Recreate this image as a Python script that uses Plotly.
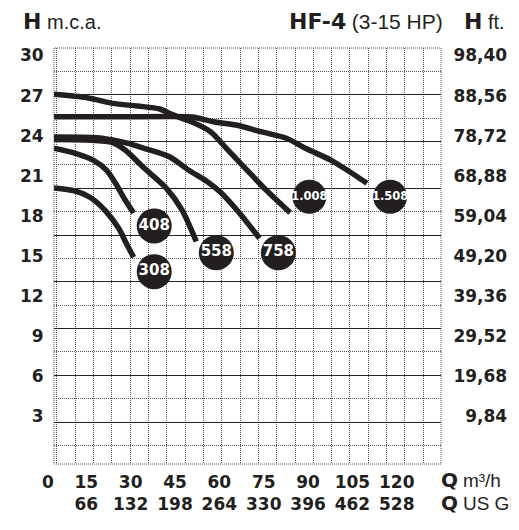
import plotly.graph_objects as go

# ---------------- data ----------------
q_ticks = [0, 15, 30, 45, 60, 75, 90, 105, 120]          # m3/h
q_labels = ["0", "15", "30", "45", "60", "75", "90", "105", "120"]
gpm_labels = ["", "66", "132", "198", "264", "330", "396", "462", "528"]

h_ticks = [3, 6, 9, 12, 15, 18, 21, 24, 27, 30]          # m.c.a.
h_labels = ["3", "6", "9", "12", "15", "18", "21", "24", "27", "30"]
ft_labels = ["9,84", "19,68", "29,52", "39,36", "49,20",
             "59,04", "68,88", "78,72", "88,56", "98,40"]

models = ["308", "408", "558", "758", "1.008", "1.508"]

q_308 = [0, 6.96, 12.29, 17.65, 21.92, 24.39, 26.95]
h_308 = [20.09, 19.87, 19.38, 18.33, 17.06, 15.98, 14.91]

q_408 = [0, 6.96, 13.38, 17.65, 20.86, 24.06, 26.95]
h_408 = [23.06, 22.69, 22.15, 21.44, 20.43, 19.19, 18.22]

q_558 = [0, 11.23, 19.80, 24.06, 30.48, 37.96, 43.32, 48.13]
h_558 = [23.72, 23.68, 23.49, 22.93, 21.58, 20.08, 18.44, 16.09]

q_758 = [0, 14.44, 19.80, 25.12, 30.48, 39.05, 45.47, 51.88, 56.15, 62.57, 69.53]
h_758 = [23.90, 23.85, 23.68, 23.43, 23.06, 22.43, 21.44, 20.56, 19.81, 18.26, 16.33]

q_1008 = [0, 11.23, 19.80, 28.24, 35.84, 39.05, 43.32, 46.53, 52.94, 58.30, 64.72, 71.14, 76.46, 79.90]
h_1008 = [27.10, 26.84, 26.42, 26.22, 26.00, 25.68, 25.30, 25.05, 24.30, 23.06, 21.56, 20.07, 18.95, 18.24]

q_1508 = [0, 22.0, 45.47, 47.49, 53.90, 61.51, 69.95, 78.61, 85.03, 93.60, 100.01, 105.88]
h_1508 = [25.42, 25.42, 25.42, 25.38, 25.05, 24.80, 24.30, 23.81, 23.06, 22.18, 21.31, 20.44]

label_q = [33.9, 33.9, 54.9, 75.9, 86.4, 113.7]
label_h = [13.83, 17.25, 15.25, 15.25, 19.44, 19.44]

# ---------------- styling ----------------
INK = "#231f20"
BOLD = "DejaVu Sans"
REG = "Liberation Sans"
OFF = 8                      # page body margin of the browser
W, H = 519 - OFF, 530 - OFF
L, T = 45 - OFF, 48 - OFF
PW, PH = 408, 416
R, B = W - L - PW, H - T - PH
NOTICK = "rgba(0,0,0,0)"


def px_x(px):
    return (px - OFF - L) / PW


def px_y(py):
    return (T + PH - (py - OFF)) / PH


fig = go.Figure()

curves = [(q_308, h_308), (q_408, h_408), (q_558, h_558),
          (q_758, h_758), (q_1008, h_1008), (q_1508, h_1508)]
for (qq, hh), name in zip(curves, models):
    fig.add_trace(go.Scatter(
        x=qq, y=hh, mode="lines", name=name,
        line=dict(color=INK, width=5.5, shape="spline", smoothing=0.8),
        hoverinfo="skip", showlegend=False))

fig.add_trace(go.Scatter(
    x=label_q, y=label_h, mode="markers+text", text=models,
    textposition="middle center",
    marker=dict(size=[35, 35, 35, 35, 34, 34], color=INK, opacity=1,
                line=dict(width=0)),
    textfont=dict(family=BOLD, weight="bold", color="white",
                  size=[15 if len(m) == 3 else 11.5 for m in models]),
    showlegend=False, hoverinfo="skip", cliponaxis=False))

# empty traces so the helper axes exist
fig.add_trace(go.Scatter(x=[], y=[], xaxis="x2", yaxis="y2", showlegend=False))
fig.add_trace(go.Scatter(x=[], y=[], xaxis="x", yaxis="y3", showlegend=False))

tickfont = dict(family=BOLD, weight="bold", size=17, color=INK)
xt = ["\u20070" if g == "" else f"{a}<br>{g}" for a, g in zip(q_labels, gpm_labels)]
width_ft = max(len(s) for s in ft_labels)
ft_text = [s.rjust(width_ft, "\u2007") for s in ft_labels]

fig.update_layout(
    width=W, height=H, autosize=False,
    margin=dict(l=L, r=R, t=T, b=B, pad=0),
    paper_bgcolor="white", plot_bgcolor="white",
    xaxis=dict(range=[0, 130.91], tickmode="array", tickvals=q_ticks, ticktext=xt,
               showgrid=False, zeroline=False, showline=False, ticks="",
               tickfont=tickfont, ticklabelshift=-12, ticklabelstandoff=6),
    yaxis=dict(range=[-0.55, 30.56], tickmode="array", tickvals=h_ticks, ticktext=h_labels,
               showgrid=False, zeroline=False, showline=False,
               ticks="outside", ticklen=6, tickcolor=NOTICK,
               tickfont=tickfont),
    yaxis3=dict(range=[-0.55, 30.56], overlaying="y", side="right", anchor="x",
                tickmode="array", tickvals=h_ticks, ticktext=ft_text,
                showgrid=False, zeroline=False, showline=False,
                ticks="outside", ticklen=8, tickcolor=NOTICK,
                tickfont=tickfont),
    xaxis2=dict(range=[-1.158, 19.97], overlaying="x", anchor="y2",
                tickmode="linear", tick0=0, dtick=1, showticklabels=False, ticks="",
                showgrid=True, gridcolor="#555555", gridwidth=1, griddash="1px,1px",
                zeroline=False, showline=False),
    yaxis2=dict(range=[17.79, 0], overlaying="y", anchor="x2",
                tickmode="array", tickvals=list(range(2, 17, 2)),
                showticklabels=False, ticks="",
                showgrid=True, gridcolor="#222222", gridwidth=1,
                minor=dict(tickmode="linear", tick0=0, dtick=1, showgrid=True,
                           gridcolor="#555555", gridwidth=1, griddash="1px,1px", ticks=""),
                zeroline=False, showline=False),
    shapes=[dict(type="rect", xref="paper", yref="paper", x0=0, x1=1, y0=0, y1=1,
                 line=dict(color="#555555", width=1, dash="1px,1px"), layer="below")],
)

def bold_span(t, s):
    return f'<span style="font-family:{BOLD};font-weight:bold;font-size:{s}px">{t}</span>'

def reg_span(t, s):
    return f'<span style="font-family:{REG};font-size:{s}px">{t}</span>'

top = px_y(OFF)
headers = [
    (11, bold_span("H", 22) + " " + reg_span("m.c.a.", 20)),
    (292, bold_span("HF-4", 22) + " " + reg_span("(3-15 HP)", 21)),
    (476, bold_span("H", 22) + " " + reg_span("ft.", 20)),
]
for x, txt in headers:
    fig.add_annotation(x=px_x(x), y=top, xref="paper", yref="paper",
                       xanchor="left", yanchor="top", text=txt, showarrow=False,
                       borderpad=0, font=dict(color=INK, family=REG, size=20))

fig.add_annotation(
    x=px_x(452), y=px_y(491), xref="paper", yref="paper",
    xanchor="left", yanchor="middle", align="left", showarrow=False, borderpad=0,
    text=bold_span("Q", 20) + " " + reg_span("m³/h", 19) + "<br>"
         + bold_span("Q", 20) + " " + reg_span("US GPM", 19),
    font=dict(color=INK, family=REG, size=17.7))

fig.write_html("out.html")
